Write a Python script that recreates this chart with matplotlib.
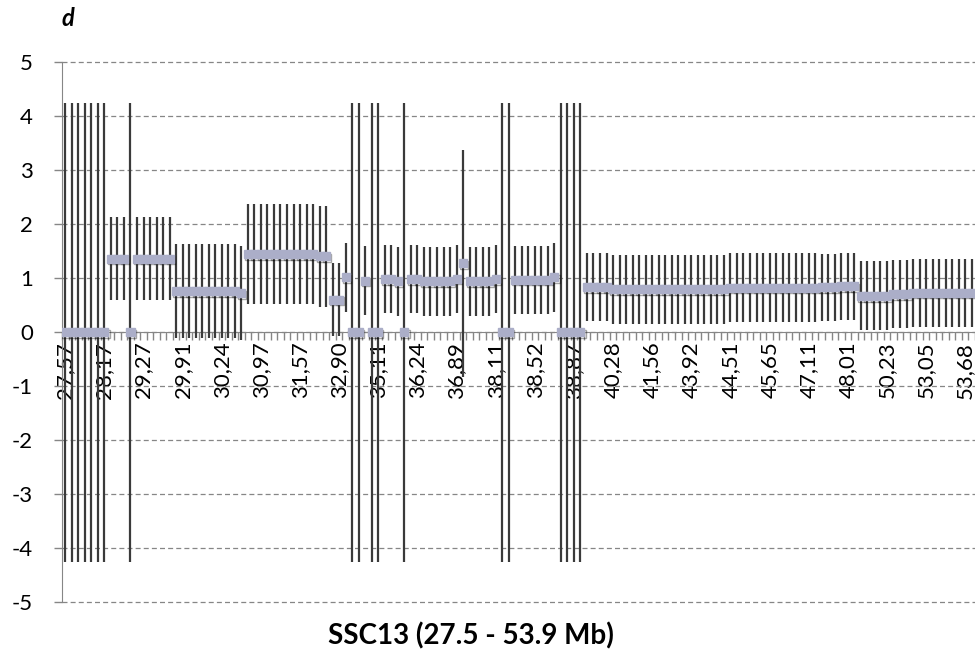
import numpy as np
from matplotlib import pyplot as plt
import matplotlib.patheffects as pe

plt.rcParams['font.family'] = ['Lato', 'DejaVu Sans']
plt.rcParams['axes.unicode_minus'] = False

# effect size d per marker (category order along SSC13)
d_vals = [
    0, 0, 0, 0, 0, 0, 0,
    1.36, 1.36, 1.36,
    0,
    1.36, 1.36, 1.36, 1.36, 1.36, 1.36,
    0.76, 0.76, 0.76, 0.76, 0.76, 0.76, 0.76, 0.76, 0.76, 0.76,
    0.72,
    1.44, 1.44, 1.44, 1.44, 1.44, 1.44, 1.44, 1.44, 1.44, 1.44, 1.44,
    1.40, 1.40,
    0.60, 0.60,
    1.01,
    0, 0,
    0.95,
    0, 0,
    0.98, 0.98,
    0.94,
    0,
    0.98, 0.98,
    0.94, 0.94, 0.94, 0.94, 0.94,
    0.99,
    1.27,
    0.94, 0.94, 0.94, 0.94,
    0.98,
    0, 0,
    0.97, 0.97, 0.97, 0.97, 0.97, 0.97,
    1.01,
    0, 0, 0, 0,
    0.83, 0.83, 0.83, 0.83,
    0.79, 0.79, 0.79, 0.79, 0.79, 0.79, 0.79, 0.79, 0.79,
    0.79, 0.79, 0.79, 0.79, 0.79, 0.79, 0.79, 0.79, 0.79,
    0.82, 0.82, 0.82, 0.82, 0.82, 0.82, 0.82,
    0.82, 0.82, 0.82, 0.82, 0.82, 0.82, 0.82,
    0.83, 0.83, 0.83,
    0.85, 0.85, 0.85,
    0.67, 0.67, 0.67, 0.67, 0.67,
    0.70, 0.70, 0.70,
    0.73, 0.73, 0.73, 0.73, 0.73, 0.73, 0.73, 0.73, 0.73, 0.73,
]

# half width of the error bar for each marker
d_err = [
    4.25, 4.25, 4.25, 4.25, 4.25, 4.25, 4.25,
    0.77, 0.77, 0.77,
    4.25,
    0.77, 0.77, 0.77, 0.77, 0.77, 0.77,
    0.87, 0.87, 0.87, 0.87, 0.87, 0.87, 0.87, 0.87, 0.87, 0.87,
    0.87,
    0.93, 0.93, 0.93, 0.93, 0.93, 0.93, 0.93, 0.93, 0.93, 0.93, 0.93,
    0.93, 0.93,
    0.67, 0.67,
    0.64,
    4.25, 4.25,
    0.64,
    4.25, 4.25,
    0.63, 0.63,
    0.64,
    4.25,
    0.63, 0.63,
    0.64, 0.64, 0.64, 0.64, 0.64,
    0.63,
    2.10,
    0.64, 0.64, 0.64, 0.64,
    0.63,
    4.25, 4.25,
    0.63, 0.63, 0.63, 0.63, 0.63, 0.63,
    0.64,
    4.25, 4.25, 4.25, 4.25,
    0.63, 0.63, 0.63, 0.63,
    0.64, 0.64, 0.64, 0.64, 0.64, 0.64, 0.64, 0.64, 0.64,
    0.64, 0.64, 0.64, 0.64, 0.64, 0.64, 0.64, 0.64, 0.64,
    0.64, 0.64, 0.64, 0.64, 0.64, 0.64, 0.64,
    0.64, 0.64, 0.64, 0.64, 0.64, 0.64, 0.64,
    0.62, 0.62, 0.62,
    0.62, 0.62, 0.62,
    0.64, 0.64, 0.64, 0.64, 0.64,
    0.63, 0.63, 0.63,
    0.63, 0.63, 0.63, 0.63, 0.63, 0.63, 0.63, 0.63, 0.63, 0.63,
]

# every 6th category carries a position label (Mb)
tick_labels = ['27,57', '28,17', '29,27', '29,91', '30,24', '30,97', '31,57', '32,90',
               '35,11', '36,24', '36,89', '38,11', '38,52', '38,87', '40,28', '41,56',
               '43,92', '44,51', '45,65', '47,11', '48,01', '50,23', '53,05', '53,68']
label_step = 6

n = len(d_vals)
x = np.arange(n)

fig = plt.figure(figsize=(9.75, 6.52), dpi=100)
ax = fig.add_axes([62 / 975, 50 / 652, 913 / 975, 540 / 652])

grey = '#868686'

ax.errorbar(x, d_vals, yerr=d_err, fmt='none', ecolor='#3a3a3a', elinewidth=1.6,
            capsize=0, zorder=3)
ax.plot(x, d_vals, ls='none', marker='s', ms=5.8, mfc='#abaec8', mec='#abaec8',
        zorder=4,
        path_effects=[pe.SimpleLineShadow(offset=(0.8, -1.2), alpha=0.35), pe.Normal()])

ax.set_xlim(-0.5, n - 0.5)
ax.set_ylim(-5, 5)
ax.set_yticks(np.arange(-5, 6))
ax.yaxis.grid(True, ls=(0, (4, 2.5)), color=grey, lw=0.9)
for g in ax.get_ygridlines():
    g.set_clip_on(False)
ax.set_axisbelow(True)

for s in ['top', 'right']:
    ax.spines[s].set_visible(False)
ax.spines['left'].set_color(grey)
ax.spines['bottom'].set_position(('data', 0))
ax.spines['bottom'].set_color(grey)
ax.spines['bottom'].set_zorder(2)

ax.tick_params(axis='y', length=6, color=grey, labelsize=16, pad=15, width=1)
ax.set_xticks(x[::label_step])
ax.set_xticklabels(tick_labels, rotation=90, fontsize=16, va='top')
ax.set_xticks(np.arange(n + 1) - 0.5, minor=True)
ax.tick_params(axis='x', which='major', length=0, pad=7)
ax.tick_params(axis='x', which='minor', length=6, color=grey, width=1)

fig.text(471 / 975, 1 - 636 / 652, 'SSC13 (27.5 - 53.9 Mb)', fontsize=20,
         fontweight='bold', ha='center', va='center')
fig.text(68 / 975, 1 - 18 / 652, 'd', fontsize=17, fontweight='bold', style='italic',
         ha='center', va='center')

fig.savefig('out.png', dpi=100)
